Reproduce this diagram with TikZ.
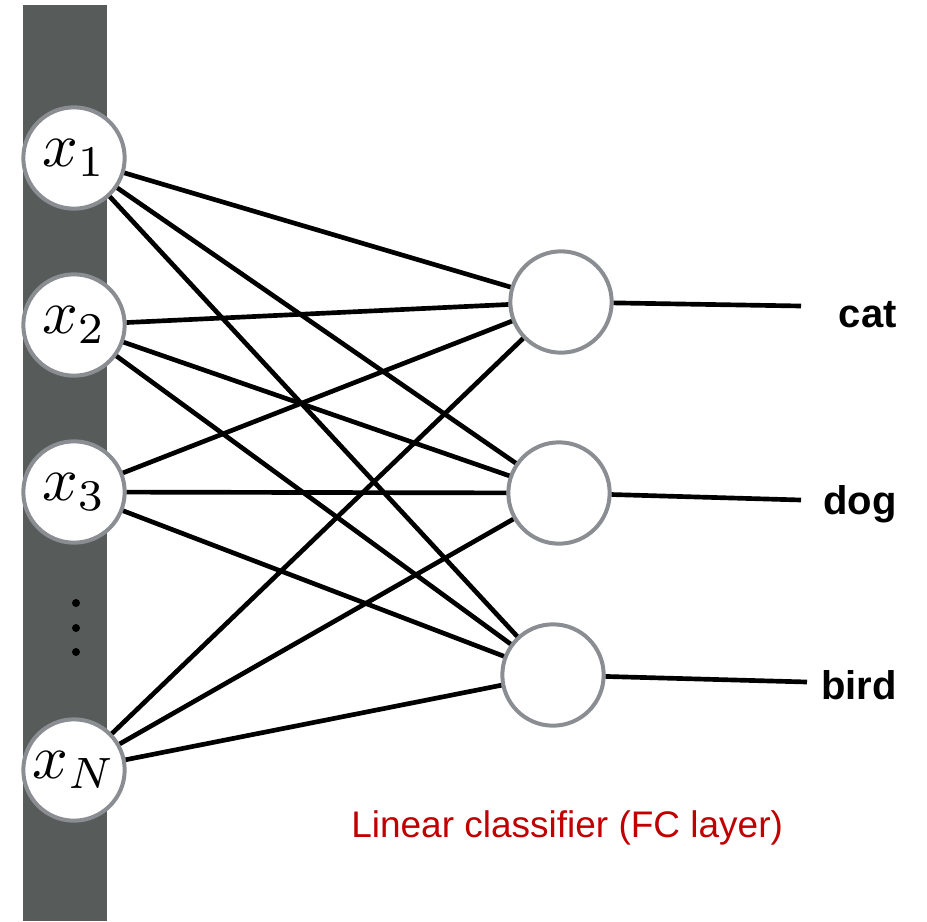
\documentclass[tikz,border=0pt]{standalone}
\usepackage{fontspec}
\usepackage{graphicx}
\setmainfont{Liberation Sans}
\definecolor{barcol}{RGB}{87,92,90}
\definecolor{ringcol}{RGB}{138,141,145}
\definecolor{redtxt}{RGB}{192,0,0}
\newcommand{\bigvar}[1]{\scalebox{4.7}{$#1$}}
\begin{document}
\begin{tikzpicture}[x=0.75pt,y=-0.75pt,
  neuron/.style={circle,draw=ringcol,line width=3pt,fill=white,minimum size=76pt,inner sep=0pt},
  invar/.style={neuron},
  wire/.style={line width=3.5pt,black},
  outlbl/.style={font=\fontsize{30}{36}\selectfont\bfseries,anchor=base east,inner sep=0pt},
  caption/.style={font=\fontsize{27.75}{33}\selectfont,text=redtxt,anchor=base west,inner sep=0pt},
  dotmark/.style={fill=black}]
\useasboundingbox (0,0) rectangle (927,921);
\fill[barcol] (23,5) rectangle (107,921);
% input neurons
\node[invar] (x1) at (74,158) {\bigvar{x_1}};
\node[invar] (x2) at (74,325) {\bigvar{x_2}};
\node[invar] (x3) at (74,492) {\bigvar{x_3}};
\node[invar] (xN) at (74,770) {\bigvar{x_N}};
% vertical dots
\fill[dotmark] (76,603) circle [radius=4];
\fill[dotmark] (76,628) circle [radius=4];
\fill[dotmark] (76,652) circle [radius=4];
% output neurons
\node[neuron] (cat) at (561,302) {};
\node[neuron] (dog) at (559,493) {};
\node[neuron] (bird) at (553,675) {};
% connections
\foreach \i in {x1,x2,x3,xN}{
  \foreach \o in {cat,dog,bird}{
    \draw[wire] (\i) -- (\o);
  }
}
% outputs
\coordinate (catend) at (801,306);
\coordinate (dogend) at (801,500);
\coordinate (birdend) at (807,682);
\draw[wire] (cat) -- (catend);
\draw[wire] (dog) -- (dogend);
\draw[wire] (bird) -- (birdend);
\node[outlbl] (catlbl) at (897,327) {cat};
\node[outlbl] (doglbl) at (897,514) {dog};
\node[outlbl] (birdlbl) at (897,699) {bird};
\node[caption] (cap) at (351,837) {Linear classifier (FC layer)};
\end{tikzpicture}
\end{document}
